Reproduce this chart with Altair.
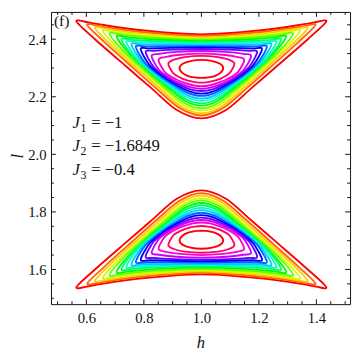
import altair as alt
import pandas as pd

# ---------------- data ----------------
X_DOMAIN = [0.477, 1.517]
Y_DOMAIN = [1.4795, 2.4947]
SYM_H = 1.0   # mirror line of every contour (left/right)
SYM_L = 2.0   # mirror line between the upper and the lower lobe

LEVELS = list(range(16))
COLORS = ["#ff0000", "#ff6600", "#ffcc00", "#ccff00", "#66ff00", "#00ff00",
          "#00ff66", "#00ffcc", "#00ccff", "#0066ff", "#0000ff", "#6600ff",
          "#cc00ff", "#ff00cc", "#ff0066", "#ff0000"]

# left half of each upper-lobe contour: top centre -> left tip -> bottom centre
UPPER_H = [
    [1, .783, .630, .565, .630, .739, .826, .913, 1],
    [1, .802, .663, .603, .663, .762, .841, .921, 1],
    [1, .815, .686, .630, .686, .778, .852, .926, 1],
    [1, .829, .708, .657, .708, .794, .863, .931, 1],
    [1, .840, .729, .681, .729, .809, .872, .936, 1],
    [1, .852, .749, .705, .749, .823, .882, .941, 1],
    [1, .861, .764, .722, .764, .833, .889, .944, 1],
    [1, .870, .778, .739, .778, .843, .896, .948, 1],
    [1, .878, .793, .756, .793, .854, .902, .951, 1],
    [1, .886, .806, .772, .806, .863, .909, .954, 1],
    [1, .894, .821, .789, .821, .873, .916, .958, 1],
    [1, .903, .835, .806, .835, .884, .922, .961, 1],
    [1, .914, .853, .827, .853, .896, .931, .965, 1],
    [1, .926, .873, .851, .873, .911, .940, .970, 1],
    [1, .942, .902, .885, .902, .931, .954, .977, 1],
    [1, .962, .935, .924, .935, .954, .970, .985, 1],
]
UPPER_L = [
    [2.417, 2.432, 2.454, 2.463, 2.400, 2.305, 2.230, 2.155, 2.125],
    [2.4115, 2.424, 2.442, 2.450, 2.390, 2.301, 2.231, 2.163, 2.135],
    [2.4065, 2.417, 2.433, 2.440, 2.380, 2.297, 2.232, 2.169, 2.143],
    [2.402, 2.411, 2.424, 2.430, 2.370, 2.292, 2.233, 2.175, 2.152],
    [2.398, 2.405, 2.415, 2.420, 2.359, 2.287, 2.233, 2.181, 2.160],
    [2.3935, 2.398, 2.406, 2.410, 2.350, 2.282, 2.233, 2.187, 2.169],
    [2.3895, 2.392, 2.397, 2.400, 2.339, 2.277, 2.233, 2.193, 2.177],
    [2.385, 2.387, 2.389, 2.391, 2.331, 2.274, 2.235, 2.200, 2.186],
    [2.381, 2.382, 2.382, 2.383, 2.323, 2.270, 2.236, 2.206, 2.194],
    [2.376, 2.3755, 2.375, 2.374, 2.315, 2.268, 2.238, 2.213, 2.203],
    [2.371, 2.370, 2.368, 2.366, 2.308, 2.266, 2.240, 2.219, 2.211],
    [2.366, 2.364, 2.360, 2.356, 2.302, 2.264, 2.243, 2.226, 2.220],
    [2.359, 2.356, 2.349, 2.342, 2.293, 2.262, 2.245, 2.2325, 2.228],
    [2.350, 2.346, 2.338, 2.328, 2.286, 2.261, 2.249, 2.240, 2.237],
    [2.342, 2.338, 2.328, 2.315, 2.282, 2.264, 2.256, 2.251, 2.249],
    [2.328, 2.324, 2.3145, 2.2995, 2.282, 2.272, 2.268, 2.266, 2.2655],
]

X_MAJOR = [0.6, 0.8, 1.0, 1.2, 1.4]
Y_MAJOR = [1.6, 1.8, 2.0, 2.2, 2.4]
X_MINOR = [0.5, 0.55, 0.65, 0.7, 0.75, 0.85, 0.9, 0.95, 1.05, 1.1, 1.15,
           1.25, 1.3, 1.35, 1.45, 1.5]
Y_MINOR = [1.5, 1.55, 1.65, 1.7, 1.75, 1.85, 1.9, 1.95, 2.05, 2.1, 2.15,
           2.25, 2.3, 2.35, 2.45]

PANEL_LABEL = "(f)"
PANEL_POS = (0.487, 2.4625)
J_SUBS = ["1", "2", "3"]
J_VALUES = ["= \u22121", "= \u22121.6849", "= \u22120.4"]
J_H = 0.552
J_L = [2.1077, 2.0295, 1.9447]

# ---------------- build table ----------------
rows = []
for k in LEVELS:
    hs, ls = UPPER_H[k], UPPER_L[k]
    loop_h = hs + [2 * SYM_H - v for v in hs[-2:0:-1]]
    loop_l = ls + ls[-2:0:-1]
    for lobe in ("upper", "lower"):
        for i, (hv, lv) in enumerate(zip(loop_h, loop_l)):
            rows.append({"k": k, "cid": f"{lobe}-{k}", "idx": i, "h": hv,
                         "l": lv if lobe == "upper" else 2 * SYM_L - lv})
df = pd.DataFrame(rows)

W, H = 306, 299
SERIF = "Liberation Serif"
xs = alt.Scale(domain=X_DOMAIN, nice=False, zero=False)
ys = alt.Scale(domain=Y_DOMAIN, nice=False, zero=False)

X_AXIS = alt.Axis(
    values=X_MAJOR, format=".1f", title="h", ticks=False, tickSize=0,
    domain=False, grid=False, labelFont=SERIF, labelFontSize=15,
    labelColor="#111", labelPadding=7, titleFont=SERIF,
    titleFontStyle="italic", titleFontWeight="normal", titleFontSize=17,
    titleColor="#111", titlePadding=9)
Y_AXIS = alt.Axis(
    values=Y_MAJOR, format=".1f", title="l", ticks=False, tickSize=0,
    domain=False, grid=False, labelFont=SERIF, labelFontSize=15,
    labelColor="#111", labelPadding=5, titleFont=SERIF,
    titleFontStyle="italic", titleFontWeight="normal", titleFontSize=17,
    titleColor="#111", titleAngle=270, titleX=-34, titleY=147,
    titleAlign="center", titleBaseline="middle")


def X(field):
    return alt.X(field, scale=xs, axis=X_AXIS)


def Y(field):
    return alt.Y(field, scale=ys, axis=Y_AXIS)


lines = alt.Chart(df).mark_line(
    interpolate="cardinal-closed", tension=0.15, strokeWidth=1.9, clip=True
).encode(
    x=X("h:Q"),
    y=Y("l:Q"),
    color=alt.Color("k:O", scale=alt.Scale(domain=LEVELS, range=COLORS), legend=None),
    detail="cid:N",
    order="idx:Q",
)


def tick_layer(values, side, length):
    d = pd.DataFrame({"h": values, "l": values})
    base = alt.Chart(d).mark_rule(color="#111", strokeWidth=1)
    if side == "bottom":
        return base.encode(x=X("h:Q"), y=alt.value(H), y2=alt.value(H - length))
    if side == "top":
        return base.encode(x=X("h:Q"), y=alt.value(0), y2=alt.value(length))
    if side == "left":
        return base.encode(y=Y("l:Q"), x=alt.value(0), x2=alt.value(length))
    return base.encode(y=Y("l:Q"), x=alt.value(W), x2=alt.value(W - length))


ticks = []
for side in ("bottom", "top"):
    ticks.append(tick_layer(X_MAJOR, side, 5))
    ticks.append(tick_layer(X_MINOR, side, 3))
for side in ("left", "right"):
    ticks.append(tick_layer(Y_MAJOR, side, 5))
    ticks.append(tick_layer(Y_MINOR, side, 3))

panel = alt.Chart(pd.DataFrame({"h": [PANEL_POS[0]], "l": [PANEL_POS[1]], "t": [PANEL_LABEL]})).mark_text(
    align="left", baseline="middle", font=SERIF, fontSize=16, color="#111"
).encode(x=X("h:Q"), y=Y("l:Q"), text="t:N")

jdf = pd.DataFrame({"h": [J_H] * 3, "l": J_L, "s": J_SUBS, "v": J_VALUES, "j": ["J"] * 3})
j_main = alt.Chart(jdf).mark_text(
    align="left", baseline="middle", font=SERIF, fontSize=17, fontStyle="italic", color="#111"
).encode(x=X("h:Q"), y=Y("l:Q"), text="j:N")
j_sub = alt.Chart(jdf).mark_text(
    align="left", baseline="middle", font=SERIF, fontSize=12, color="#111", dx=8, dy=5
).encode(x=X("h:Q"), y=Y("l:Q"), text="s:N")
j_val = alt.Chart(jdf).mark_text(
    align="left", baseline="middle", font=SERIF, fontSize=17, color="#111", dx=19
).encode(x=X("h:Q"), y=Y("l:Q"), text="v:N")

chart = alt.layer(lines, *ticks, panel, j_main, j_sub, j_val).properties(
    width=W, height=H,
    autosize=alt.AutoSizeParams(type="none"),
    padding={"left": 44, "top": 0, "right": 2, "bottom": 48},
).configure_view(stroke="#111", strokeWidth=1)

chart.save("out.html", embed_options={"renderer": "svg", "actions": False})
